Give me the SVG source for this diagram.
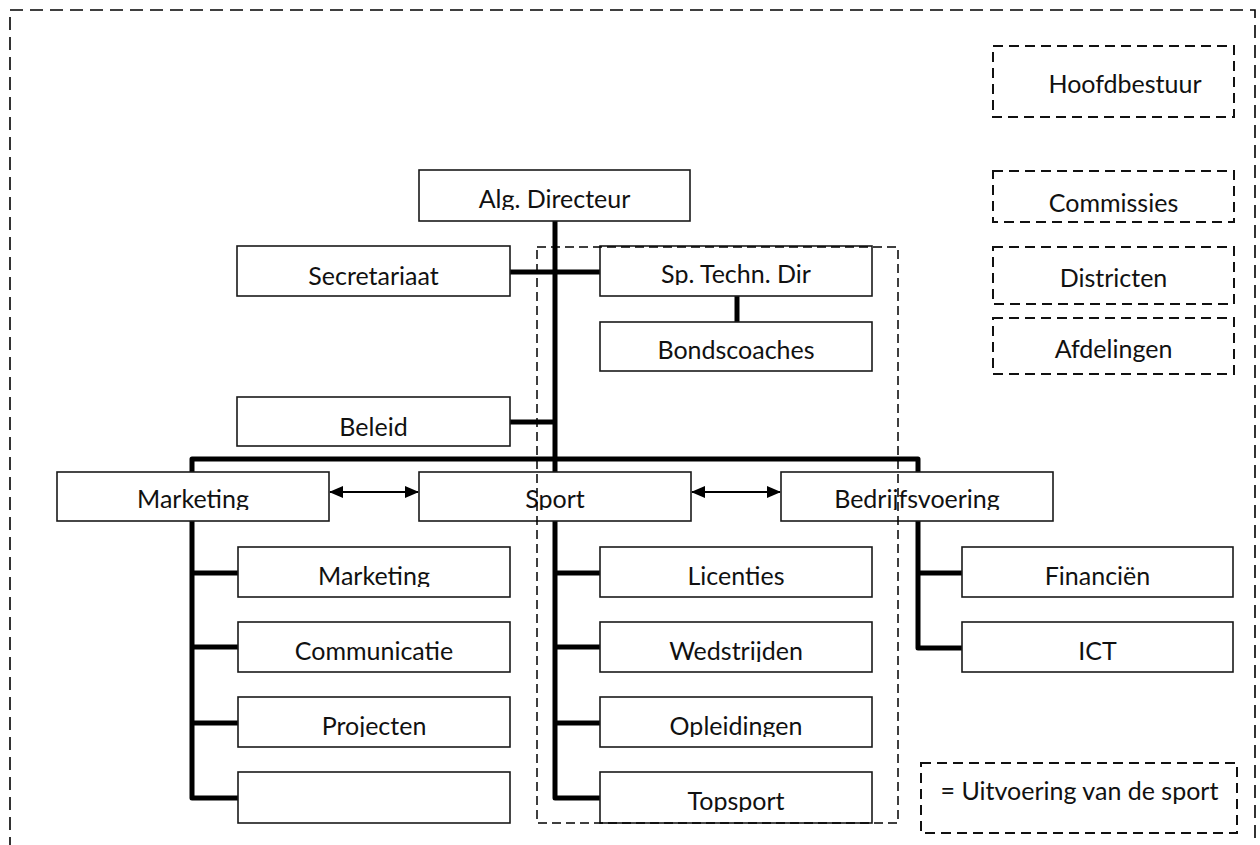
<svg xmlns="http://www.w3.org/2000/svg" width="1260" height="845" viewBox="0 0 1260 845">
<style>
.box{fill:#fff;stroke:#1a1a1a;stroke-width:1.6}
.lg{fill:none;stroke:#111;stroke-width:2;stroke-dasharray:10 6}
.t{font-family:Lato,"Liberation Sans",sans-serif;font-size:25px;fill:#111;text-anchor:middle}
.c{fill:none;stroke:#000;stroke-width:5;stroke-linejoin:round}
.a{fill:none;stroke:#000;stroke-width:1.8;marker-start:url(#ah);marker-end:url(#ah)}
</style>
<defs>
<marker id="ah" viewBox="0 0 14 14" refX="13" refY="7" markerWidth="14" markerHeight="14" markerUnits="userSpaceOnUse" orient="auto-start-reverse"><path d="M0,1 L14,7 L0,13 Z" fill="#000"/></marker>
<clipPath id="c208" clipPathUnits="userSpaceOnUse"><rect x="0" y="0" width="1260" height="210"/></clipPath>
<clipPath id="c283" clipPathUnits="userSpaceOnUse"><rect x="0" y="0" width="1260" height="285"/></clipPath>
<clipPath id="c508" clipPathUnits="userSpaceOnUse"><rect x="0" y="0" width="1260" height="510"/></clipPath>
<clipPath id="c585" clipPathUnits="userSpaceOnUse"><rect x="0" y="0" width="1260" height="587"/></clipPath>
<clipPath id="c660" clipPathUnits="userSpaceOnUse"><rect x="0" y="0" width="1260" height="662"/></clipPath>
<clipPath id="c735" clipPathUnits="userSpaceOnUse"><rect x="0" y="0" width="1260" height="737"/></clipPath>
<clipPath id="c810" clipPathUnits="userSpaceOnUse"><rect x="0" y="0" width="1260" height="812"/></clipPath>
</defs>
<rect width="1260" height="845" fill="#fff"/>
<path d="M10,850 V10 H1255 V850" fill="none" stroke="#000" stroke-width="1.6" stroke-dasharray="13 7"/>

<g id="connectors">
<path class="c" d="M555,221 V472"/>
<path class="c" d="M510,272 H600"/>
<path class="c" d="M510,422 H555"/>
<path class="c" d="M737,296 V322"/>
<path class="c" d="M192,472 V459 H918 V472"/>
<path class="c" d="M192,521 V798 H238 M192,573 H238 M192,647 H238 M192,723 H238"/>
<path class="c" d="M555,521 V798 H600 M555,573 H600 M555,647 H600 M555,723 H600"/>
<path class="c" d="M918,521 V648 H962 M918,573 H962"/>
<path class="a" d="M330,492 H418"/>
<path class="a" d="M692,492 H780"/>
</g>

<g id="alg-directeur"><rect class="box" x="419" y="170" width="271" height="51"/><text class="t" x="554.5" y="208" clip-path="url(#c208)">Alg. Directeur</text></g>
<g id="secretariaat"><rect class="box" x="237" y="246" width="273" height="50"/><text class="t" x="373.5" y="285">Secretariaat</text></g>
<g id="sp-techn-dir"><rect class="box" x="600" y="246" width="272" height="50"/><text class="t" x="736" y="283" clip-path="url(#c283)">Sp. Techn. Dir</text></g>
<g id="bondscoaches"><rect class="box" x="600" y="322" width="272" height="49"/><text class="t" x="736" y="359">Bondscoaches</text></g>
<g id="beleid"><rect class="box" x="237" y="397" width="273" height="49"/><text class="t" x="373.5" y="436">Beleid</text></g>

<g id="marketing"><rect class="box" x="57" y="472" width="272" height="49"/><text class="t" x="193" y="508" clip-path="url(#c508)">Marketing</text></g>
<g id="sport"><rect class="box" x="419" y="472" width="272" height="49"/><text class="t" x="555" y="508" clip-path="url(#c508)">Sport</text></g>
<g id="bedrijfsvoering"><rect class="box" x="781" y="472" width="272" height="49"/><text class="t" x="917" y="508" clip-path="url(#c508)">Bedrijfsvoering</text></g>

<g id="marketing-2"><rect class="box" x="238" y="547" width="272" height="50"/><text class="t" x="374" y="585" clip-path="url(#c585)">Marketing</text></g>
<g id="communicatie"><rect class="box" x="238" y="622" width="272" height="50"/><text class="t" x="374" y="660">Communicatie</text></g>
<g id="projecten"><rect class="box" x="238" y="697" width="272" height="50"/><text class="t" x="374" y="735" clip-path="url(#c735)">Projecten</text></g>
<g id="leeg"><rect class="box" x="238" y="772" width="272" height="51"/></g>

<g id="licenties"><rect class="box" x="600" y="547" width="272" height="50"/><text class="t" x="736" y="585">Licenties</text></g>
<g id="wedstrijden"><rect class="box" x="600" y="622" width="272" height="50"/><text class="t" x="736" y="660" clip-path="url(#c660)">Wedstrijden</text></g>
<g id="opleidingen"><rect class="box" x="600" y="697" width="272" height="50"/><text class="t" x="736" y="735" clip-path="url(#c735)">Opleidingen</text></g>
<g id="topsport"><rect class="box" x="600" y="772" width="272" height="51"/><text class="t" x="736" y="810" clip-path="url(#c810)">Topsport</text></g>

<g id="financien"><rect class="box" x="962" y="547" width="271" height="50"/><text class="t" x="1097.5" y="585">Financiën</text></g>
<g id="ict"><rect class="box" x="962" y="622" width="271" height="50"/><text class="t" x="1097.5" y="660">ICT</text></g>

<g id="uitvoering-sport-kader"><rect x="537" y="247" width="361" height="576" fill="none" stroke="#000" stroke-width="1.5" stroke-dasharray="9 5"/></g>

<g id="hoofdbestuur"><rect class="lg" x="993" y="46" width="241" height="71"/><text class="t" x="1125" y="93">Hoofdbestuur</text></g>
<g id="commissies"><rect class="lg" x="993" y="171" width="241" height="51"/><text class="t" x="1113.5" y="212">Commissies</text></g>
<g id="districten"><rect class="lg" x="993" y="247" width="241" height="57"/><text class="t" x="1113.5" y="287">Districten</text></g>
<g id="afdelingen"><rect class="lg" x="993" y="318" width="241" height="56"/><text class="t" x="1113.5" y="358">Afdelingen</text></g>
<g id="legenda"><rect class="lg" x="921" y="763" width="316" height="70"/><text class="t" x="1079.5" y="800">= Uitvoering van de sport</text></g>
</svg>
